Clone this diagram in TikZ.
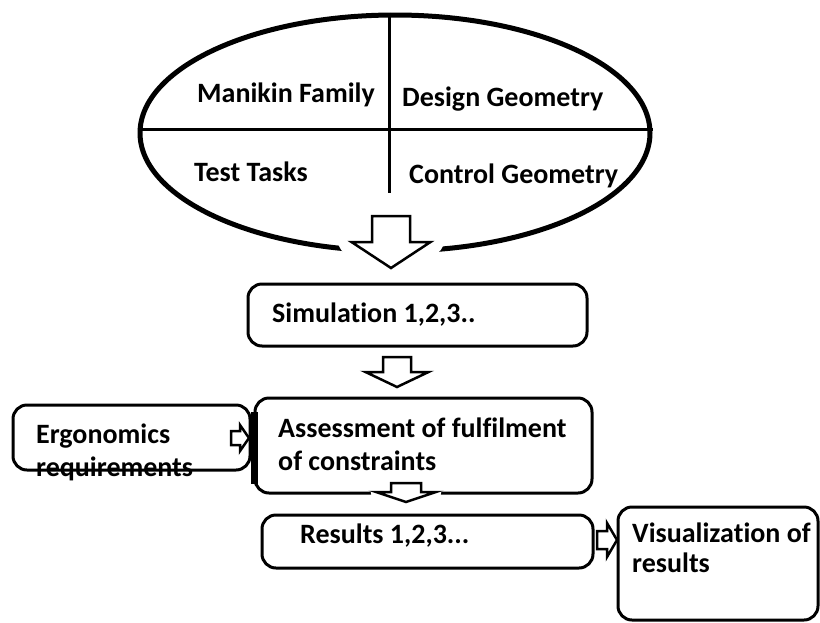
\documentclass[tikz,border=0pt]{standalone}
\usepackage{fontspec}
\setmainfont[Ligatures=NoCommon]{Carlito}
\usepackage{tikz}
\usetikzlibrary{shapes.geometric,calc,positioning}

\tikzset{
  box/.style={draw, line width=3pt, rounded corners=14pt, inner sep=0pt},
  lbl/.style={anchor=base west, inner sep=0pt, font=\bfseries\fontsize{28}{33}\selectfont},
  hollow/.style={draw, line width=2.5pt, fill=white, line join=miter},
  halo/.style={preaction={draw=white, line width=#1, line join=round}},
  downblock/.style args={#1/#2/#3}{to path={
    ($(\tikztostart)+(-#1,0)$) -- ($(\tikztotarget)+(-#1,-#3)$) -- ($(\tikztotarget)+(-#2,-#3)$)
    -- (\tikztotarget) -- ($(\tikztotarget)+(#2,-#3)$) -- ($(\tikztotarget)+(#1,-#3)$)
    -- ($(\tikztostart)+(#1,0)$) -- cycle}},
  rightblock/.style args={#1/#2/#3}{to path={
    ($(\tikztostart)+(0,-#1)$) -- ($(\tikztotarget)+(-#3,-#1)$) -- ($(\tikztotarget)+(-#3,-#2)$)
    -- (\tikztotarget) -- ($(\tikztotarget)+(-#3,#2)$) -- ($(\tikztotarget)+(-#3,#1)$)
    -- ($(\tikztostart)+(0,#1)$) -- cycle}},
}

\begin{document}
\begin{tikzpicture}[x=1pt, y=-1pt]
    \useasboundingbox (0,0) rectangle (820,622);

    % Inputs
    \node[draw, ellipse, line width=5pt, inner sep=0pt, minimum width=510pt, minimum height=236pt] (ell) at (395,133) {};
    \draw[line width=3pt] ($(ell.west)+(0,-4)$) -- ($(ell.east)+(0,-4)$);
    \draw[line width=3pt] ($(ell.north)+(-6,0)$) -- ++(0,180);
    \node[lbl] (manikin) at (197,102) {Manikin Family};
    \node[lbl] (design) at (402,106) {Design Geometry};
    \node[lbl] (tasks) at (194,181) {Test Tasks};
    \node[lbl] (control) at (409,183) {Control Geometry};

    % Boxes
    \node[box, minimum width=339pt, minimum height=62pt] (sim) at (417.5,315) {};
    \node[lbl] (simtxt) at (272,322) {Simulation 1,2,3..};

    \node[box, minimum width=237pt, minimum height=65pt] (erg) at (131.5,437.5) {};
    \node[lbl] (ergtxt1) at (36,443) {Ergonomics};
    \node[lbl] (ergtxt2) at (36,476) {requirements};

    \node[box, minimum width=337pt, minimum height=95pt] (ass) at (423.5,445.5) {};
    \node[lbl] (asstxt1) at (278,437) {Assessment of fulfilment};
    \node[lbl] (asstxt2) at (278,470) {of constraints};
    \draw[line width=7pt] (254,412) -- (254,484);

    \node[box, minimum width=331pt, minimum height=53pt] (res) at (427.5,541.5) {};
    \node[lbl] (restxt) at (300,543) {Results 1,2,3...};

    \node[box, minimum width=200pt, minimum height=113pt] (vis) at (718,563.5) {};
    \node[lbl] (vistxt1) at (632,542) {Visualization of};
    \node[lbl] (vistxt2) at (632,572) {results};

    % Block arrows
    \coordinate (a1s) at (391,216); \coordinate (a1e) at (391,268);
    \coordinate (a2s) at (397,357); \coordinate (a2e) at (397,387);
    \coordinate (a3s) at (406,483); \coordinate (a3e) at (406,502);
    \coordinate (a4s) at (231,438); \coordinate (a4e) at (249,438);
    \coordinate (a5s) at (597,540); \coordinate (a5e) at (617,540);
    \draw[hollow, halo=26pt] (a1s) to[downblock=19/39.5/26] (a1e);
    \draw[hollow] (a2s) to[downblock=14/31.5/15] (a2e);
    \draw[hollow, halo=11pt] (a3s) to[downblock=15/30/10] (a3e);
    \draw[hollow] (a4s) to[rightblock=7/13/9] (a4e);
    \draw[hollow] (a5s) to[rightblock=9/17/10] (a5e);

\end{tikzpicture}
\end{document}
